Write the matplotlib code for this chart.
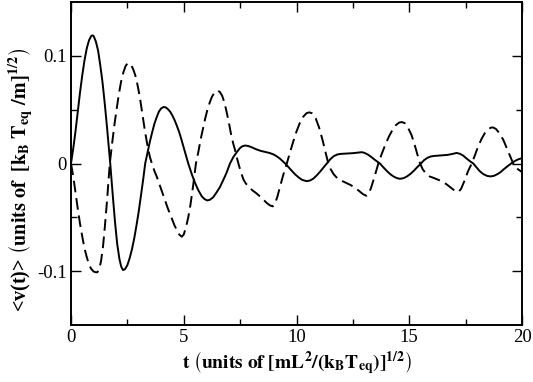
import matplotlib
matplotlib.use("Agg")
import matplotlib.pyplot as plt

# ---- data ----
t_solid = [0, 0.1, 0.2, 0.3, 0.4, 0.5, 0.6, 0.7, 0.8, 0.9, 0.95, 1.0, 1.1, 1.2, 1.3, 1.4,
           1.5, 1.6, 1.74, 1.85, 1.95, 2.05, 2.15, 2.23, 2.31, 2.4, 2.5, 2.6, 2.7, 2.8,
           2.9, 3.0, 3.1, 3.2, 3.29, 3.4, 3.5, 3.6, 3.7, 3.8, 3.9, 4.0, 4.11, 4.2, 4.3,
           4.4, 4.5, 4.6, 4.7, 4.8, 4.9, 5.05, 5.2, 5.35, 5.5, 5.65, 5.8, 5.92, 6.04,
           6.15, 6.3, 6.45, 6.6, 6.75, 6.9, 7.05, 7.2, 7.35, 7.5, 7.6, 7.72, 7.85, 8.0,
           8.2, 8.4, 8.6, 8.8, 8.97, 9.1, 9.25, 9.4, 9.5, 9.65, 9.8, 9.95, 10.1, 10.25,
           10.45, 10.6, 10.75, 10.9, 11.05, 11.2, 11.34, 11.5, 11.65, 11.8, 11.95, 12.1,
           12.3, 12.5, 12.7, 12.89, 13.0, 13.15, 13.3, 13.5, 13.7, 13.85, 14.0, 14.15,
           14.3, 14.45, 14.59, 14.75, 14.9, 15.05, 15.2, 15.35, 15.52, 15.65, 15.8,
           15.95, 16.1, 16.3, 16.5, 16.7, 16.9, 17.1, 17.25, 17.4, 17.55, 17.7, 17.84,
           17.98, 18.12, 18.28, 18.45, 18.6, 18.75, 18.9, 19.05, 19.2, 19.38, 19.55,
           19.7, 19.85, 20.0]
v_solid = [0, 0.014, 0.030, 0.048, 0.066, 0.082, 0.096, 0.107, 0.1145, 0.1185, 0.119,
           0.1185, 0.1135, 0.105, 0.091, 0.075, 0.055, 0.033, 0.0, -0.029, -0.054, -0.075,
           -0.089, -0.096, -0.099, -0.098, -0.0944, -0.088, -0.080, -0.070, -0.058,
           -0.045, -0.030, -0.015, 0.0, 0.011, 0.0205, 0.029, 0.037, 0.043, 0.0483,
           0.0512, 0.0525, 0.0521, 0.0505, 0.048, 0.0444, 0.040, 0.0347, 0.029, 0.022,
           0.011, 0.0, -0.0095, -0.018, -0.025, -0.0305, -0.033, -0.0343, -0.0338,
           -0.0315, -0.027, -0.0221, -0.0155, -0.0085, 0.0, 0.006, 0.0105, 0.0145,
           0.016, 0.0167, 0.0163, 0.0152, 0.0133, 0.0118, 0.0108, 0.0098, 0.0085,
           0.0070, 0.0048, 0.0020, 0.0, -0.0035, -0.0070, -0.0103, -0.0130, -0.0152,
           -0.0164, -0.0158, -0.0140, -0.0110, -0.0075, -0.0037, 0.0, 0.0040, 0.0068,
           0.0083, 0.0089, 0.0091, 0.0093, 0.0096, 0.0101, 0.0105, 0.0100, 0.0085,
           0.0063, 0.0030, 0.0, -0.0035, -0.0068, -0.0098, -0.0120, -0.0136, -0.0142,
           -0.0136, -0.0120, -0.0097, -0.0068, -0.0035, 0.0, 0.0030, 0.0052, 0.0065,
           0.0070, 0.0073, 0.0076, 0.0080, 0.0088, 0.0098, 0.0090, 0.0072, 0.0045,
           0.0020, 0.0, -0.0035, -0.0070, -0.0098, -0.0115, -0.0120, -0.0115, -0.0100,
           -0.0080, -0.0052, -0.0022, 0.0005, 0.0025, 0.0040, 0.0050]

t_dashed = [0, 0.1, 0.2, 0.3, 0.4, 0.5, 0.6, 0.7, 0.8, 0.9, 1.0, 1.1, 1.17, 1.25, 1.33,
            1.42, 1.5, 1.6, 1.72, 1.82, 1.92, 2.02, 2.12, 2.22, 2.32, 2.42, 2.5, 2.56,
            2.65, 2.75, 2.85, 2.95, 3.05, 3.15, 3.28, 3.41, 3.5, 3.6, 3.7, 3.8, 3.9, 4.0,
            4.1, 4.2, 4.3, 4.45, 4.6, 4.7, 4.8, 4.91, 5.0, 5.1, 5.2, 5.3, 5.42, 5.54,
            5.65, 5.75, 5.85, 5.95, 6.05, 6.15, 6.25, 6.35, 6.43, 6.51, 6.6, 6.7, 6.8,
            6.9, 7.0, 7.1, 7.2, 7.27, 7.36, 7.45, 7.55, 7.65, 7.75, 7.9, 8.05, 8.24, 8.4,
            8.55, 8.7, 8.83, 8.95, 9.05, 9.15, 9.25, 9.4, 9.57, 9.7, 9.85, 10.0, 10.15,
            10.3, 10.45, 10.57, 10.7, 10.85, 11.0, 11.15, 11.28, 11.41, 11.52, 11.65,
            11.8, 12.0, 12.2, 12.4, 12.6, 12.8, 12.95, 13.1, 13.2, 13.3, 13.45, 13.63,
            13.78, 13.95, 14.1, 14.25, 14.4, 14.55, 14.67, 14.8, 14.95, 15.1, 15.25,
            15.38, 15.48, 15.6, 15.75, 15.9, 16.07, 16.25, 16.45, 16.66, 16.85, 17.0,
            17.18, 17.3, 17.45, 17.6, 17.77, 17.9, 18.05, 18.2, 18.35, 18.5, 18.62,
            18.72, 18.85, 19.0, 19.17, 19.32, 19.47, 19.61, 19.8, 20.0]
v_dashed = [0, -0.012, -0.027, -0.042, -0.056, -0.068, -0.079, -0.087, -0.094, -0.098,
            -0.1003, -0.101, -0.101, -0.098, -0.091, -0.077, -0.059, -0.034, 0.0, 0.018,
            0.035, 0.050, 0.064, 0.076, 0.0845, 0.0905, 0.0928, 0.0932, 0.092, 0.088,
            0.082, 0.073, 0.062, 0.048, 0.030, 0.0145, 0.006, -0.001, -0.007, -0.012,
            -0.018, -0.024, -0.030, -0.036, -0.042, -0.050, -0.058, -0.062, -0.066,
            -0.068, -0.066, -0.059, -0.050, -0.038, -0.020, 0.0, 0.011, 0.0225, 0.032,
            0.0417, 0.050, 0.0565, 0.062, 0.0654, 0.0672, 0.0676, 0.0665, 0.063, 0.057,
            0.048, 0.038, 0.027, 0.018, 0.013, 0.005, -0.002, -0.009, -0.015, -0.0185,
            -0.022, -0.025, -0.028, -0.031, -0.034, -0.037, -0.039, -0.0398, -0.037,
            -0.031, -0.023, -0.0115, 0.0, 0.0095, 0.020, 0.0297, 0.0378, 0.0435, 0.0468,
            0.0475, 0.0465, 0.042, 0.0335, 0.0222, 0.011, 0.0, -0.0055, -0.0100, -0.0135,
            -0.016, -0.018, -0.020, -0.0225, -0.026, -0.0285, -0.030, -0.028, -0.023,
            -0.013, 0.0, 0.009, 0.018, 0.0251, 0.031, 0.0355, 0.038, 0.0385, 0.0375,
            0.033, 0.0265, 0.0166, 0.007, 0.0, -0.0055, -0.0095, -0.0120, -0.0133,
            -0.0148, -0.0165, -0.0194, -0.0225, -0.025, -0.0265, -0.0235, -0.016,
            -0.0075, 0.0, 0.007, 0.0155, 0.0226, 0.0282, 0.0318, 0.0333, 0.0335, 0.0320,
            0.028, 0.022, 0.0145, 0.007, 0.0, -0.005, -0.008]

xticks = [0, 5, 10, 15, 20]
xtick_labels = ["0", "5", "10", "15", "20"]
yticks = [-0.1, 0, 0.1]
ytick_labels = ["-0.1", "0", "0.1"]

plt.rcParams['font.family'] = ['Liberation Serif', 'DejaVu Serif']
plt.rcParams['mathtext.fontset'] = 'stix'

fig = plt.figure(figsize=(5.33, 3.82), dpi=100)
ax = fig.add_axes([71/533, 57/382, 451/533, 323/382])

ax.plot(t_solid, v_solid, color='black', lw=1.4, solid_joinstyle='round')
ax.plot(t_dashed, v_dashed, color='black', lw=1.4, dashes=(6, 3))

ax.set_xlim(0, 20)
ax.set_ylim(-0.15, 0.15)
ax.set_xticks(xticks)
ax.set_xticklabels(xtick_labels)
ax.set_yticks(yticks)
ax.set_yticklabels(ytick_labels)
ax.set_xticks([2.5, 7.5, 12.5, 17.5], minor=True)
ax.set_yticks([-0.05, 0.05], minor=True)
ax.tick_params(which='both', direction='in', top=True, right=True, width=1.0,
               labelsize=13.5, colors='black')
ax.tick_params(which='major', length=7, pad=3)
ax.tick_params(which='minor', length=4.3)
for s in ax.spines.values():
    s.set_linewidth(1.4)

ax.set_xlabel(r'$\mathbf{t}\ \left(\mathbf{units\ of\ [mL^{2}/(k_{B}T_{eq})]^{1/2}}\right)$',
              fontsize=14, labelpad=2)
ax.set_ylabel(r'<v(t)> $\left(\mathbf{units\ of\ \ [k_{B}\ T_{eq}\ /m]^{1/2}}\right)$',
              fontsize=14.5, fontweight='bold')
ax.yaxis.set_label_coords(-0.079, 0.45)

fig.savefig('out.png', dpi=100)
